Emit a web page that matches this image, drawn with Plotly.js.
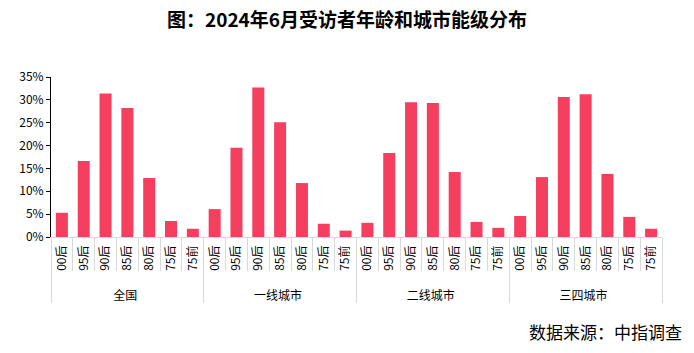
<!DOCTYPE html>
<html>
<head>
<meta charset="utf-8">
<script src="https://cdn.plot.ly/plotly-3.0.1.min.js"></script>
<style>html,body{margin:0;padding:0;background:#fff;}#chart{width:694px;height:353px;}</style>
</head>
<body>
<div id="chart"></div>
<script>
const groups = ["全国", "一线城市", "二线城市", "三四城市"];
const ages = ["00后", "95后", "90后", "85后", "80后", "75后", "75前"];
const values = {
  "全国":    [5.3, 16.6, 31.4, 28.2, 12.9, 3.5, 1.8],
  "一线城市": [6.1, 19.5, 32.7, 25.1, 11.8, 2.9, 1.4],
  "二线城市": [3.1, 18.4, 29.5, 29.3, 14.2, 3.3, 2.0],
  "三四城市": [4.6, 13.1, 30.6, 31.2, 13.8, 4.4, 1.8]
};
const seriesName = "2024.06";
const titleText = "图：2024年6月受访者年龄和城市能级分布";
const sourceText = "数据来源：中指调查";

// non-breaking spaces pad the rotated age labels so they sit a little
// lower under the axis, as in the reference
const padBefore = "\u00A0\u00A0", padAfter = "\u00A0";
const xGroup = [], xAge = [], y = [];
groups.forEach(g => {
  ages.forEach((a, i) => { xGroup.push(g); xAge.push(padBefore + a + padAfter); y.push(values[g][i]); });
});

const font = "'Noto Sans CJK SC', 'Microsoft YaHei', sans-serif";
const barColor = "#F43F5E";
const trace = {
  type: "bar",
  name: seriesName,
  x: [xGroup, xAge],
  y: y,
  marker: {color: barColor},
  showlegend: false,
  hoverinfo: "y"
};
const legendKey = {
  type: "scatter", mode: "markers", name: seriesName,
  x: [[], []], y: [],
  marker: {symbol: "square", size: 7, color: barColor},
  showlegend: true
};

const layout = {
  width: 694, height: 353,
  margin: {l: 51, r: 32, t: 77, b: 116},
  paper_bgcolor: "#fff", plot_bgcolor: "#fff",
  font: {family: font, color: "#000", size: 11},
  bargap: 0.45,
  showlegend: true,
  title: {text: "<b>" + titleText + "</b>", x: 0.5, xanchor: "center", y: 0.943, yanchor: "middle",
          font: {size: 19, family: font, color: "#000"}},
  legend: {orientation: "h", x: 0.455, xanchor: "center", y: 1.034, yanchor: "middle",
           font: {size: 12, family: font}, bgcolor: "rgba(0,0,0,0)", itemwidth: 30},
  xaxis: {
    type: "multicategory",
    showline: true, linecolor: "#d9d9d9", linewidth: 1,
    ticks: "outside", tickson: "boundaries", ticklen: 33, tickcolor: "#d9d9d9",
    tickangle: -90,
    tickfont: {size: 12, family: font, color: "#000"},
    showdividers: true, dividercolor: "#d9d9d9", dividerwidth: 1,
    showgrid: false, zeroline: false
  },
  yaxis: {
    range: [0, 35], dtick: 5, ticksuffix: "%",
    showline: true, linecolor: "#000", linewidth: 1,
    ticks: "outside", ticklen: 4, tickcolor: "#000",
    tickfont: {size: 12, family: font, color: "#000"},
    showgrid: false, zeroline: false
  },
  annotations: [{
    text: sourceText, xref: "paper", yref: "paper", x: 1.0, xanchor: "right",
    y: -0.59, yanchor: "middle", xshift: 22, showarrow: false,
    font: {size: 17, family: font, color: "#000"}
  }]
};

Plotly.newPlot("chart", [trace, legendKey], layout, {displayModeBar: false, staticPlot: true});
</script>
</body>
</html>
